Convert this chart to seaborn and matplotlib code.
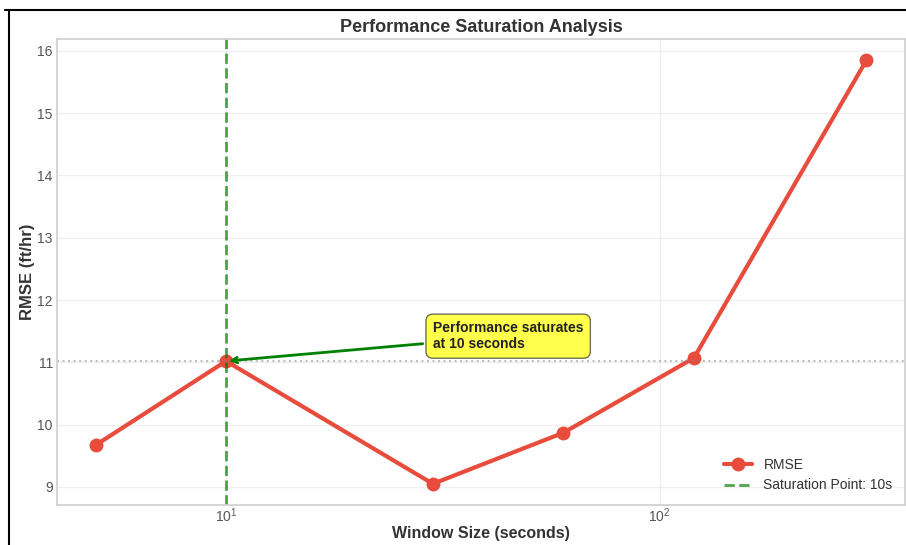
import matplotlib
matplotlib.use("Agg")
import matplotlib.pyplot as plt
from matplotlib.lines import Line2D
import seaborn as sns
import pandas as pd

# Window sizes (seconds) and the RMSE measured at each one
window_sizes = [5, 10, 30, 60, 120, 300]
rmse_values = [9.67, 11.02, 9.05, 9.87, 11.07, 15.85]
saturation_window = 10
saturation_rmse = 11.02

sns.set_theme(style="whitegrid")
plt.rcParams["font.family"] = ["Liberation Sans", "DejaVu Sans"]

df = pd.DataFrame({"window": window_sizes, "rmse": rmse_values})

fig = plt.figure(figsize=(9.06, 5.45), dpi=100)
ax = fig.add_axes([0.0629, 0.0734, 0.9360, 0.8550])

sns.lineplot(data=df, x="window", y="rmse", ax=ax, color="#e74c3c",
             linewidth=3, marker="o", markersize=10, markeredgewidth=0,
             label="RMSE")
ax.set_xscale("log")

ax.axvline(saturation_window, color="green", linestyle="--", linewidth=2,
           alpha=0.7, label=f"Saturation Point: {saturation_window}s")
ax.axhline(saturation_rmse, color="gray", linestyle=":", linewidth=1.5,
           alpha=0.5)

ax.annotate(f"Performance saturates\nat {saturation_window} seconds",
            xy=(saturation_window, saturation_rmse), xytext=(30, 11.42),
            fontsize=10, fontweight="bold", color="#222222", va="center",
            ha="left",
            bbox=dict(boxstyle="round,pad=0.5", facecolor="yellow",
                      edgecolor="#333333", alpha=0.7),
            arrowprops=dict(arrowstyle="->", color="green", lw=2))

ax.set_title("Performance Saturation Analysis", fontsize=13,
             fontweight="bold", color="#333333", pad=5)
ax.set_xlabel("Window Size (seconds)", fontsize=11.5, fontweight="bold",
              color="#333333", labelpad=1)
ax.set_ylabel("RMSE (ft/hr)", fontsize=12, fontweight="bold",
              color="#333333", labelpad=2)
ax.tick_params(which="both", labelsize=10, colors="#555555", length=0)
ax.tick_params(axis="x", which="both", pad=1)
ax.tick_params(axis="y", which="both", pad=3)
ax.grid(True, which="major", alpha=0.3)
ax.grid(False, which="minor")
for spine in ax.spines.values():
    spine.set_color("#d0d0d0")
    spine.set_linewidth(1.25)

leg = ax.legend(loc="lower right", fontsize=10, frameon=False)
for t in leg.get_texts():
    t.set_color("#333333")

# Dark frame along the top and left edges of the figure
fig.add_artist(Line2D([0.005, 1.0], [0.981, 0.981], color="black",
                      linewidth=1.5, transform=fig.transFigure))
fig.add_artist(Line2D([0.0099, 0.0099], [0.0, 0.981], color="black",
                      linewidth=1.5, transform=fig.transFigure))

fig.savefig("out.png", dpi=100)
